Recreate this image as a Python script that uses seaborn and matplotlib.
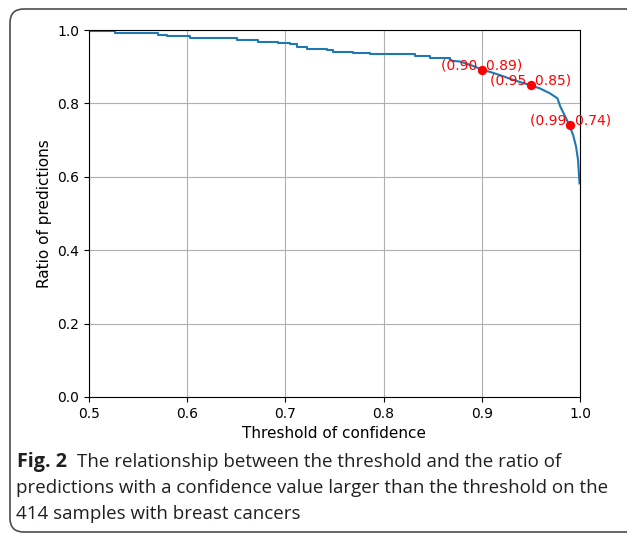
import matplotlib
matplotlib.use("Agg")
import matplotlib.pyplot as plt
import seaborn as sns
import numpy as np
import pandas as pd
from matplotlib.patches import FancyBboxPatch

# ---- data ----
step_thr = [0.500, 0.5265, 0.570, 0.579, 0.603, 0.651, 0.672, 0.692, 0.705, 0.712,
            0.722, 0.742, 0.748, 0.769, 0.786, 0.832, 0.847, 0.8676]
step_ratio = [0.997, 0.991, 0.987, 0.984, 0.979, 0.974, 0.966, 0.964, 0.961, 0.955,
              0.949, 0.946, 0.941, 0.938, 0.934, 0.930, 0.925, 0.920]
tail_thr = [0.8676, 0.870, 0.878, 0.888, 0.895, 0.900, 0.9083, 0.9185, 0.932, 0.949,
            0.959, 0.969, 0.977, 0.980, 0.985, 0.989, 0.993, 0.996, 0.998, 0.9995]
tail_ratio = [0.920, 0.916, 0.914, 0.905, 0.898, 0.891, 0.886, 0.877, 0.864, 0.850,
              0.841, 0.828, 0.814, 0.791, 0.764, 0.741, 0.714, 0.682, 0.646, 0.582]
mark_thr = [0.90, 0.95, 0.99]
mark_ratio = [0.89, 0.85, 0.74]
x_label = "Threshold of confidence"
y_label = "Ratio of predictions"
caption_bold = "Fig. 2"
caption_lines = [
    "The relationship between the threshold and the ratio of",
    "predictions with a confidence value larger than the threshold on the",
    "414 samples with breast cancers",
]

W, H = 627, 534
fig = plt.figure(figsize=(W / 100, H / 100), dpi=100)
ax = fig.add_axes([89 / W, 1 - 397 / H, (580 - 89) / W, (397 - 30) / H])

blue = "#1f77b4"
df_step = pd.DataFrame({"thr": step_thr, "ratio": step_ratio})
df_tail = pd.DataFrame({"thr": tail_thr, "ratio": tail_ratio})
sns.lineplot(data=df_step, x="thr", y="ratio", ax=ax, color=blue, lw=1.5,
             drawstyle="steps-post", estimator=None, sort=False)
sns.lineplot(data=df_tail, x="thr", y="ratio", ax=ax, color=blue, lw=1.5,
             estimator=None, sort=False)
sns.scatterplot(x=mark_thr, y=mark_ratio, ax=ax, color="red", s=45,
                edgecolor="red", linewidth=0, zorder=5)
for xv, yv in zip(mark_thr, mark_ratio):
    ax.text(xv, yv, f"({xv:.2f}, {yv:.2f})", color="red", fontsize=10,
            ha="center", va="baseline", zorder=6)

ax.set_xlim(0.5, 1.0)
ax.set_ylim(0.0, 1.0)
ax.set_xticks([0.5, 0.6, 0.7, 0.8, 0.9, 1.0])
ax.set_yticks([0.0, 0.2, 0.4, 0.6, 0.8, 1.0])
ax.grid(True, color="#b0b0b0", lw=0.8)
ax.set_axisbelow(True)
ax.set_xlabel(x_label, fontsize=11)
ax.set_ylabel(y_label, fontsize=11)
ax.tick_params(labelsize=10)

# border frame
frame = FancyBboxPatch((10 / W, 2 / H), (W + 30) / W, (H - 11) / H,
                       boxstyle="round,pad=0,rounding_size=0.022",
                       transform=fig.transFigure, fill=False,
                       edgecolor="#4d4d4d", lw=1.2, clip_on=False,
                       mutation_aspect=W / H)
fig.add_artist(frame)

# caption
cap_font = "Open Sans"
fs = 13.5
col = "#231f20"
x0 = 17
t0 = fig.text(x0 / W, 1 - 467 / H, caption_bold, fontsize=14.2, fontweight="bold",
              family=cap_font, color=col, va="baseline")
fig.canvas.draw()
bb = t0.get_window_extent(renderer=fig.canvas.get_renderer())
fig.text((bb.x1 + 10) / W, 1 - 467 / H, caption_lines[0], fontsize=fs,
         family=cap_font, color=col, va="baseline")
fig.text((x0 - 1) / W, 1 - 493 / H, caption_lines[1], fontsize=fs,
         family=cap_font, color=col, va="baseline")
fig.text((x0 - 1) / W, 1 - 519 / H, caption_lines[2], fontsize=fs,
         family=cap_font, color=col, va="baseline")

fig.savefig("out.png", dpi=100)
